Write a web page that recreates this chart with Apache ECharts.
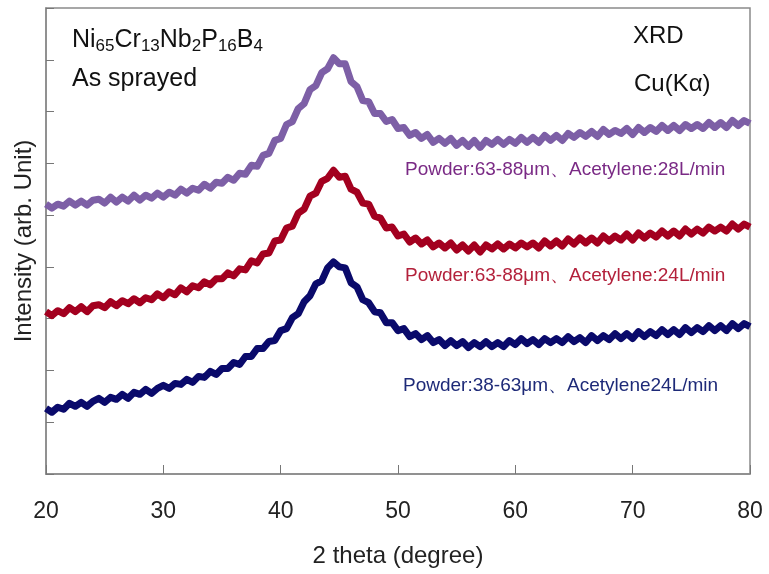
<!DOCTYPE html>
<html>
<head>
<meta charset="utf-8">
<script src="https://cdn.jsdelivr.net/npm/echarts@6/dist/echarts.min.js"></script>
<style>html,body{margin:0;padding:0;background:#fff}#c{width:769px;height:574px}</style>
</head>
<body>
<div id="c"></div>
<script>
// 2θ grid: 20 → 80 degrees, 0.5° step
const thetaStart = 20, thetaStep = 0.5;
const xTicks = ['20','30','40','50','60','70','80'];

// Powder:38-63µm, Acetylene 24L/min (navy)
const blue = [66,62,67,65,71,68,72,68,73,76,72,77,75,80,76,82,80,85,81,86,89,86,91,90,95,92,98,97,103,100,106,106,112,110,118,118,126,126,133,134,144,146,157,161,173,179,191,194,207,213,208,207,192,188,175,172,163,162,152,152,144,146,138,141,135,139,132,135,129,134,129,133,127,132,128,133,128,132,128,134,130,136,131,135,130,136,132,136,132,138,133,137,132,139,134,139,135,141,136,141,136,143,138,143,139,145,140,145,140,147,142,147,143,149,144,149,144,151,146,151,148];

// Powder:63-88µm, Acetylene 24L/min (red)
const red = [163,159,164,161,167,163,168,163,169,170,167,173,169,174,171,176,172,177,175,181,177,183,180,187,183,189,187,193,190,196,196,202,199,206,205,214,212,221,222,234,235,247,249,262,266,279,282,294,297,305,298,299,286,283,272,271,259,257,247,248,239,241,233,237,231,235,228,232,227,232,225,230,224,230,223,230,226,231,226,231,227,232,228,232,227,234,229,234,229,236,231,237,232,237,232,239,234,239,235,241,235,242,237,242,238,244,239,244,239,246,241,246,242,248,244,248,244,251,246,251,248];

// Powder:63-88µm, Acetylene 28L/min (purple)
const purple = [271,267,271,269,274,270,274,270,275,276,272,278,273,278,274,280,275,280,277,282,278,283,280,286,282,287,285,291,287,293,292,298,295,302,301,310,309,320,322,335,337,351,354,367,372,386,390,403,407,418,412,412,394,389,375,374,362,362,354,356,347,348,340,343,337,341,333,337,332,337,330,335,329,335,328,335,331,336,331,336,332,338,333,338,333,340,335,340,335,342,338,343,339,344,339,346,341,345,342,347,341,348,343,348,344,350,345,350,345,351,347,351,347,353,348,353,348,355,350,355,352];

const labels = {
  purple: 'Powder:63-88μm、Acetylene:28L/min',
  red: 'Powder:63-88μm、Acetylene:24L/min',
  blue: 'Powder:38-63μm、Acetylene24L/min'
};

function pairs(arr){ return arr.map((v,i)=>[thetaStart + i*thetaStep, v]); }

const chart = echarts.init(document.getElementById('c'));
const FONT = 'Liberation Sans, Arial, sans-serif';
const lineS = (data, color) => ({
  type:'line', data: pairs(data), showSymbol:false, symbol:'none',
  lineStyle:{color, width:7, join:'round'}, silent:true, animation:false
});
chart.setOption({
  animation:false,
  grid:{left:46, right:19, top:8, bottom:100, show:true, borderColor:'#8a8a8a', borderWidth:1.5,
        containLabel:false, outerBoundsMode:'none'},
  xAxis:{
    type:'value', min:20, max:80, interval:10,
    name:'2 theta (degree)', nameLocation:'middle', nameGap:70,
    nameTextStyle:{fontFamily:FONT, fontSize:24, color:'#222'},
    axisLine:{lineStyle:{color:'#8a8a8a', width:1.5}},
    axisTick:{inside:true, length:9, lineStyle:{color:'#777'}},
    axisLabel:{fontFamily:FONT, fontSize:23, color:'#222', margin:26,
      formatter:(v)=> xTicks.includes(String(v)) ? String(v) : ''},
    splitLine:{show:false}
  },
  yAxis:{
    type:'value', min:0, max:468, interval:52,
    name:'Intensity (arb. Unit)', nameLocation:'middle', nameGap:10,
    nameTextStyle:{fontFamily:FONT, fontSize:24, color:'#222'},
    axisLine:{show:true, lineStyle:{color:'#8a8a8a', width:1.5}},
    axisTick:{inside:true, length:8, lineStyle:{color:'#777'}},
    axisLabel:{show:false},
    splitLine:{show:false}
  },
  series:[lineS(blue,'#0a0a6b'), lineS(red,'#a3001f'), lineS(purple,'#7d5fa6')],
  graphic:[
    {type:'text', left:72, top:28, style:{
      text:'Ni{s|65}Cr{s|13}Nb{s|2}P{s|16}B{s|4}',
      rich:{s:{fontSize:17, fontFamily:FONT, fill:'#111', padding:[12,0,0,0]}},
      fontSize:25, fontFamily:FONT, fill:'#111'}},
    {type:'text', left:72, top:67, style:{text:'As sprayed', fontSize:25, fontFamily:FONT, fill:'#111'}},
    {type:'text', left:633, top:24, style:{text:'XRD', fontSize:24, fontFamily:FONT, fill:'#111'}},
    {type:'text', left:634, top:72, style:{text:'Cu(Kα)', fontSize:24, fontFamily:FONT, fill:'#111'}},
    {type:'text', left:405, top:160, style:{text:labels.purple, fontSize:19, fontFamily:FONT, fill:'#7a2a85'}},
    {type:'text', left:405, top:266, style:{text:labels.red, fontSize:19, fontFamily:FONT, fill:'#b3213b'}},
    {type:'text', left:403, top:376, style:{text:labels.blue, fontSize:19, fontFamily:FONT, fill:'#1e2a78'}}
  ]
});
</script>
</body>
</html>
